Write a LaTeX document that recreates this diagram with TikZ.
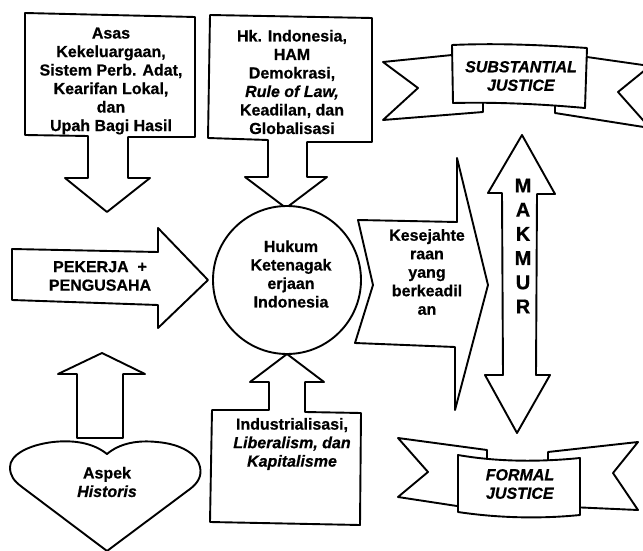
\documentclass[tikz,border=0pt]{standalone}
\usepackage{fontspec}
\setmainfont{Liberation Sans}[BoldFeatures={FakeBold=0.6},BoldItalicFeatures={FakeBold=0.6}]
\begin{document}
\begin{tikzpicture}[x=1pt,y=-1pt]
\tikzset{
  shp/.style={draw=black, fill=white, line width=1.9pt, line join=round},
  txt/.style={font=\bfseries\fontsize{16}{18.5}\selectfont, align=center, inner sep=0pt},
  bigtxt/.style={font=\bfseries\fontsize{20}{24.2}\selectfont, align=center, inner sep=0pt},
}
\useasboundingbox (0,0) rectangle (643,551);
\clip (0,0) rectangle (643,551);

% top-left callout box
\draw[shp] (25,13) -- (195,17) -- (195,137) -- (128,137) -- (128,178) -- (150,178)
  -- (107,212) -- (65,178) -- (88,178) -- (88,136) -- (25,135) -- cycle;
% top-middle callout box
\draw[shp] (210,15) -- (372,18) -- (372,142) -- (307,142) -- (307,177) -- (327,177)
  -- (286,208) -- (245,177) -- (268,177) -- (268,140) -- (208,138) -- cycle;
% central circle
\draw[shp] (287,280) circle (74);
% left arrow
\draw[shp] (12,249) -- (158,252) -- (158,228) -- (208,280) -- (158,328) -- (158,305)
  -- (12,300) -- cycle;
% bottom callout box
\draw[shp] (212,410) -- (269,410) -- (269,382) -- (250,382) -- (287,354) -- (324,382)
  -- (305,382) -- (305,412) -- (361,413) -- (360,525) -- (210,522) -- cycle;
% up arrow above heart
\draw[shp] (77,438) -- (77,374) -- (58,374) -- (102,353) -- (145,374) -- (123,374)
  -- (123,438) -- cycle;
% heart
\draw[shp] (107,454) .. controls (92,442) and (72,440) .. (53,442)
  .. controls (28,445) and (10,455) .. (10,467)
  .. controls (10,476) and (14,481) .. (22,487) -- (107,551) -- (190,489)
  .. controls (198,483) and (202,476) .. (200,467)
  .. controls (198,455) and (182,444) .. (157,442)
  .. controls (138,440) and (120,443) .. (107,454) -- cycle;
% Kesejahteraan arrow
\draw[shp] (358,220) -- (457,222) -- (457,158) -- (488,285) -- (455,410) -- (455,347)
  -- (355,343) -- (373,285) -- cycle;
% MAKMUR double arrow
\draw[shp] (502,193) -- (488,193) -- (522,135) -- (555,194) -- (537,194) -- (536,375)
  -- (550,375) -- (517,433) -- (485,375) -- (503,375) -- cycle;

% top banner
\draw[shp] (452,55) -- (383,62) -- (418,88) -- (383,120) -- (483,112) -- (483,100) -- cycle;
\draw[shp] (587,57) -- (650,66) -- (618,92) -- (650,128) -- (555,113) -- (555,100) -- cycle;
\draw[shp] (452,45) .. controls (497,43) and (542,45) .. (587,48) -- (585,108)
  .. controls (541,104) and (497,102) .. (453,103) -- cycle;
% bottom banner
\draw[shp] (487,462) -- (487,450) -- (398,438) -- (428,472) -- (398,497) -- (470,508) -- cycle;
\draw[shp] (548,462) -- (548,452) -- (638,442) -- (613,473) -- (638,510) -- (570,507) -- cycle;
\draw[shp] (458,455) .. controls (498,462) and (540,462) .. (580,458) -- (580,515)
  .. controls (540,519) and (498,518) .. (458,512) -- cycle;

% texts
\node[txt] (tl) at (111,81) {Asas\\Kekeluargaan,\\Sistem Perb. Adat,\\Kearifan Lokal,\\dan\\Upah Bagi Hasil};
\node[txt] (tm) at (292,82) {Hk. Indonesia,\\HAM\\Demokrasi,\\\textit{Rule of Law,}\\Keadilan, dan\\Globalisasi};
\node[txt] (hk) at (291,274) {Hukum\\Ketenagak\\erjaan\\Indonesia};
\node[txt] (pk) at (100,276) {PEKERJA\ \ +\\PENGUSAHA};
\node[txt] (ks) at (427,272) {Kesejahte\\raan\\yang\\berkeadil\\an};
\node[bigtxt] (mk) at (523,246) {M\\A\\K\\M\\U\\R};
\node[txt] (hs) at (107,482) {Aspek\\\textit{Historis}};
\node[txt] (ind) at (292,444) {Industrialisasi,\\\textit{Liberalism, dan}\\\textit{Kapitalisme}};
\node[txt] (sj) at (521,76) {\textit{SUBSTANTIAL}\\\textit{JUSTICE}};
\node[txt] (fj) at (520,484) {\textit{FORMAL}\\\textit{JUSTICE}};
\end{tikzpicture}
\end{document}
